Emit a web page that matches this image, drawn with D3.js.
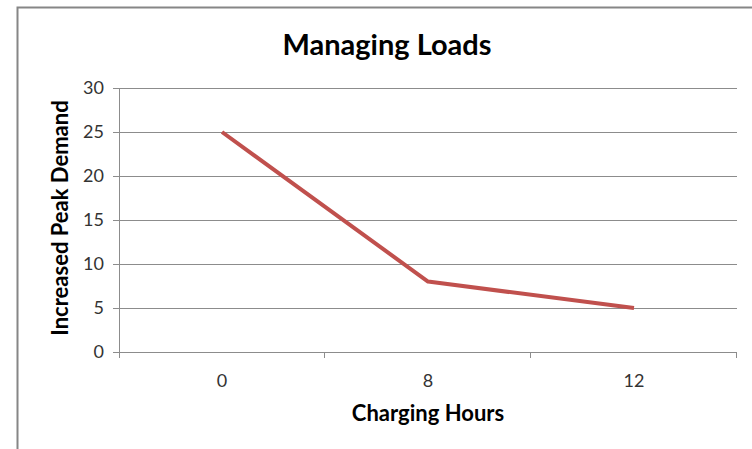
<!DOCTYPE html>
<html>
<head>
<meta charset="utf-8">
<script src="https://cdn.jsdelivr.net/npm/d3@7"></script>
<style>
  body { margin: 0; background: #fff; }
  text { font-family: Lato, "Open Sans", sans-serif; }
</style>
</head>
<body>
<div id="chart"></div>
<script>
var svgWidth = 752;
var svgHeight = 449;

// data
var categories = ["0", "8", "12"];
var peakDemand = [25, 8, 5];
var yTicks = [0, 5, 10, 15, 20, 25, 30];

var margin = { top: 88, right: 15, bottom: 97, left: 119 };
var width = svgWidth - margin.left - margin.right;
var height = svgHeight - margin.top - margin.bottom;

var svg = d3.select("#chart")
  .append("svg")
  .attr("width", svgWidth)
  .attr("height", svgHeight);

// outer chart border (only left and top are in view)
svg.append("rect")
  .attr("x", 17.5)
  .attr("y", 7.5)
  .attr("width", 800)
  .attr("height", 500)
  .attr("fill", "none")
  .attr("stroke", "#868686")
  .attr("stroke-width", 2);

var chartGroup = svg.append("g")
  .attr("transform", `translate(${margin.left}, ${margin.top})`);

var xScale = d3.scaleBand()
  .domain(categories)
  .range([0, width]);

var yScale = d3.scaleLinear()
  .domain([0, 30])
  .range([height, 0]);

// gridlines
chartGroup.append("g")
  .selectAll("line")
  .data(yTicks.filter(d => d > 0))
  .enter()
  .append("line")
  .attr("x1", 0)
  .attr("x2", width)
  .attr("y1", d => Math.round(yScale(d)) + 0.5)
  .attr("y2", d => Math.round(yScale(d)) + 0.5)
  .attr("stroke", "#8c8c8c")
  .attr("stroke-width", 1);

// y axis
var leftAxis = d3.axisLeft(yScale)
  .tickValues(yTicks)
  .tickSize(6)
  .tickPadding(9);

var yAxis = chartGroup.append("g")
  .call(leftAxis);
yAxis.select(".domain").remove();
yAxis.append("line")
  .attr("x1", 0.5).attr("x2", 0.5)
  .attr("y1", 0).attr("y2", height + 6)
  .attr("stroke", "#8c8c8c");
yAxis.selectAll(".tick line").attr("stroke", "#8c8c8c");
yAxis.selectAll(".tick text")
  .attr("fill", "#333")
  .style("font-size", "18px");

// x axis: ticks sit on category boundaries
var xAxis = chartGroup.append("g")
  .attr("transform", `translate(0, ${height})`);
xAxis.append("line")
  .attr("x1", -6).attr("x2", width)
  .attr("y1", 0.5).attr("y2", 0.5)
  .attr("stroke", "#8c8c8c");
xAxis.selectAll(".bound")
  .data(categories)
  .enter()
  .append("line")
  .attr("x1", d => Math.round(xScale(d) + xScale.bandwidth()) - 0.5)
  .attr("x2", d => Math.round(xScale(d) + xScale.bandwidth()) - 0.5)
  .attr("y1", 0)
  .attr("y2", 6)
  .attr("stroke", "#8c8c8c");
xAxis.selectAll(".label")
  .data(categories)
  .enter()
  .append("text")
  .attr("x", d => xScale(d) + xScale.bandwidth() / 2)
  .attr("y", 35)
  .attr("text-anchor", "middle")
  .attr("fill", "#333")
  .style("font-size", "18px")
  .text(d => d);

// the line
var line = d3.line()
  .x((d, i) => xScale(categories[i]) + xScale.bandwidth() / 2)
  .y(d => yScale(d));

chartGroup.append("path")
  .datum(peakDemand)
  .attr("d", line)
  .attr("fill", "none")
  .attr("stroke", "#c0504d")
  .attr("stroke-width", 4)
  .attr("stroke-linejoin", "round");

// titles
svg.append("text")
  .attr("x", 387)
  .attr("y", 55)
  .attr("text-anchor", "middle")
  .style("font-size", "29px")
  .style("font-weight", "bold")
  .text("Managing Loads");

svg.append("text")
  .attr("x", 428)
  .attr("y", 421)
  .attr("text-anchor", "middle")
  .style("font-size", "22px")
  .style("font-weight", "bold")
  .text("Charging Hours");

svg.append("text")
  .attr("transform", "rotate(-90)")
  .attr("x", -218)
  .attr("y", 68)
  .attr("text-anchor", "middle")
  .style("font-size", "22px")
  .style("font-weight", "bold")
  .text("Increased Peak Demand");
</script>
</body>
</html>
